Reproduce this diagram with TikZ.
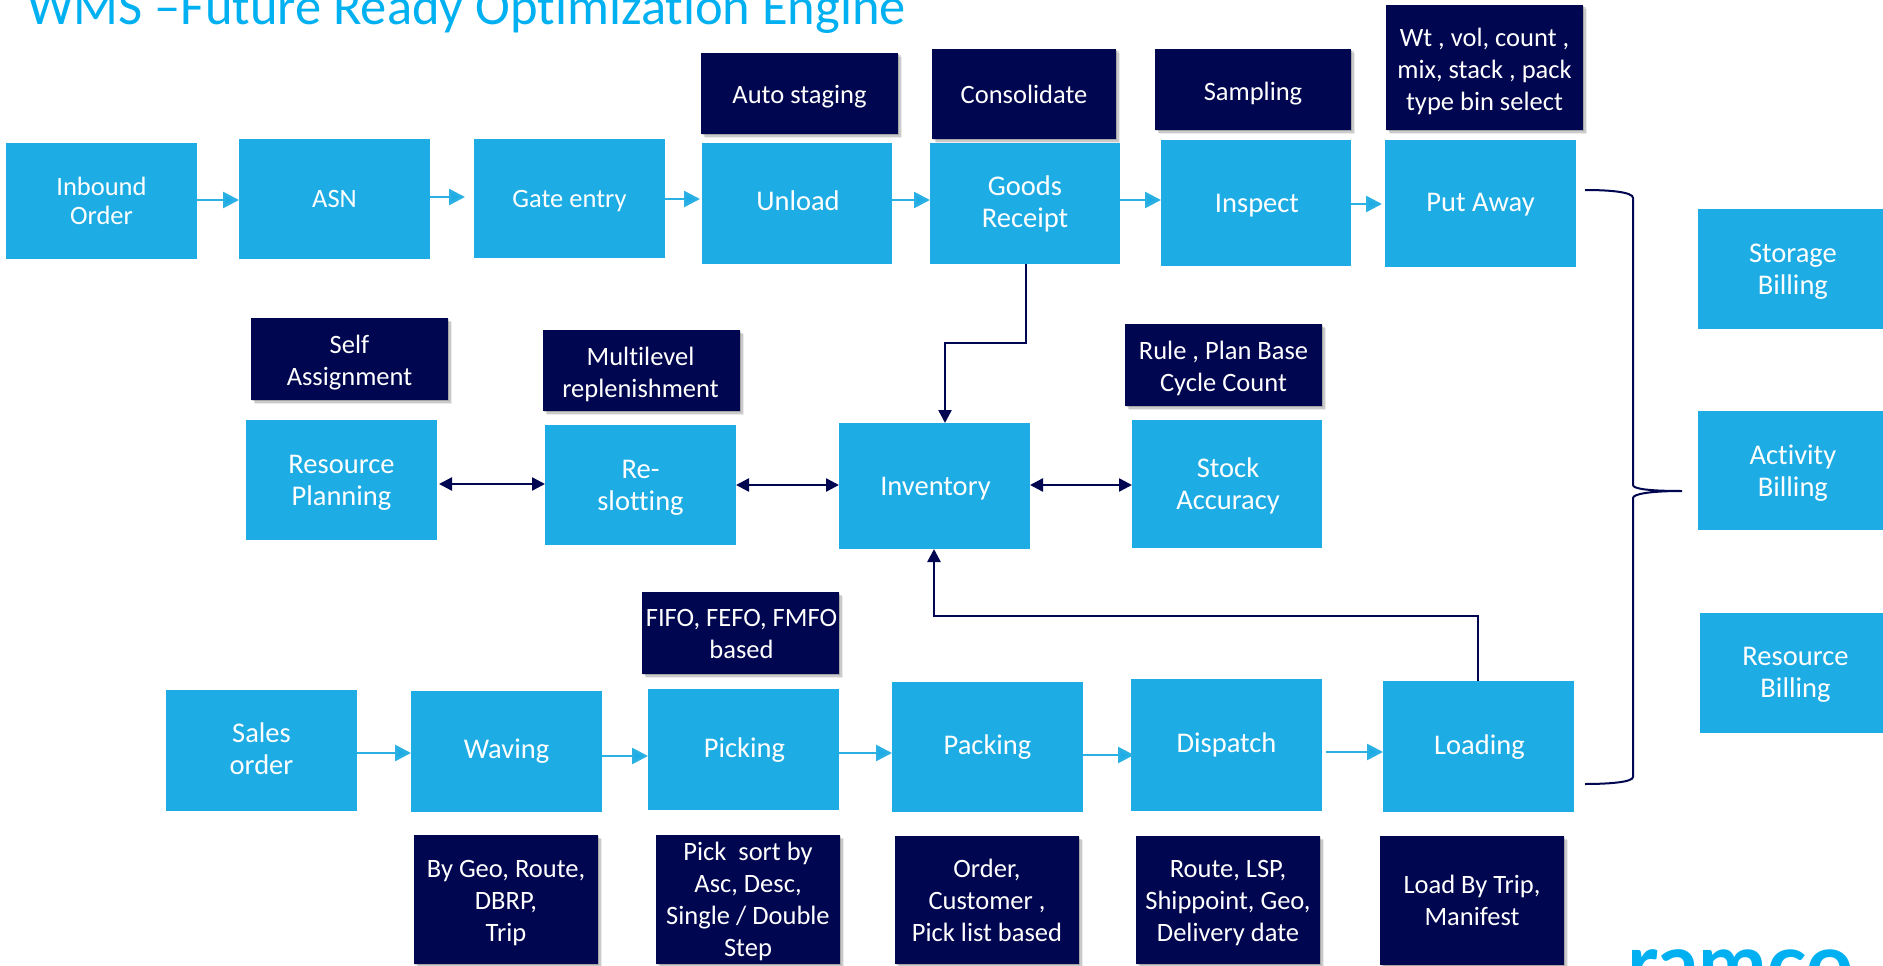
\documentclass[tikz,border=0pt]{standalone}
\usepackage{fontspec}
\setmainfont[Ligatures=NoCommon]{Carlito}
\newfontfamily\logofont{Lato}
\usetikzlibrary{arrows.meta,shadows}
\definecolor{skyb}{HTML}{1EACE4}
\definecolor{navyb}{HTML}{00064F}
\definecolor{titleb}{HTML}{00B0F0}
\definecolor{flowb}{HTML}{2BB0E4}
\newcommand{\fsA}{\fontsize{26.5}{32}\selectfont}
\newcommand{\fsB}{\fontsize{28.5}{32}\selectfont}
\newcommand{\fsC}{\fontsize{26.5}{29}\selectfont}
\newcommand{\rect}[9]{\node[#1,minimum width={(#5-#3)*1pt},minimum height={(#6-#4)*1pt},
  label={[#1 label,xshift=#7pt,yshift=-#8pt]center:{#9}}] (#2) at ({(#3+#5)/2},{(#4+#6)/2}) {};}
\tikzset{
  x=1pt,y=-1pt,
  basebox/.style={inner sep=0pt,outer sep=0pt,draw=none},
  boxtext/.style={inner sep=0pt,align=center,text=white,font=#1},
  blue26/.style={basebox,fill=skyb},
  blue26 label/.style={boxtext=\fsA},
  blue26tight/.style={basebox,fill=skyb},
  blue26tight label/.style={boxtext=\fsC},
  blue28/.style={basebox,fill=skyb},
  blue28 label/.style={boxtext=\fsB},
  darkbox/.style={basebox,fill=navyb,
    drop shadow={shadow xshift=1pt,shadow yshift=-1pt,opacity=.18,fill=black},
    drop shadow={shadow xshift=2.5pt,shadow yshift=-2.5pt,opacity=.14,fill=black},
    drop shadow={shadow xshift=4pt,shadow yshift=-4pt,opacity=.08,fill=black}},
  darkbox label/.style={boxtext=\fsA},
  flow/.style={draw=flowb,line width=2.6pt,-{Triangle[length=16pt,width=16pt,fill=skyb]}},
  link/.style={draw=navyb,line width=2.4pt,-{Triangle[length=13pt,width=13pt]}},
  twoway/.style={draw=navyb,line width=2.4pt,{Triangle[length=13pt,width=13pt]}-{Triangle[length=13pt,width=13pt]}},
  bracket/.style={draw=navyb,line width=2pt}
}
\begin{document}
\begin{tikzpicture}
\useasboundingbox (0,0) rectangle (1883,966);
\begin{scope}
\clip (0,0) rectangle (1883,966);
\node[anchor=base west,inner sep=0pt,text=titleb,font=\fontsize{52.5}{56}\selectfont] (title) at (27,25) {WMS –Future Ready Optimization Engine};
\node[anchor=base west,inner sep=0pt,text=titleb,font=\logofont\bfseries\fontsize{82}{86}\selectfont] (logo) at (1627,992) {ramco};
\end{scope}
% annotation boxes
\rect{darkbox}{autostaging}{701}{53}{898}{134}{0}{3.6}{Auto staging}
\rect{darkbox}{consolidate}{932}{49}{1116}{139}{0}{0}{Consolidate}
\rect{darkbox}{sampling}{1155}{49}{1351}{130}{0}{3.6}{Sampling}
\rect{darkbox}{wtvol}{1386}{5}{1583}{130}{0}{3.6}{Wt , vol, count ,\\mix, stack , pack\\type bin select}
\rect{darkbox}{selfassign}{251}{318}{448}{400}{0}{3.6}{Self\\Assignment}
\rect{darkbox}{multilevel}{543}{330}{740}{411}{-1}{3.6}{Multilevel\\replenishment}
\rect{darkbox}{rulebase}{1125}{324}{1322}{406}{0}{3}{Rule , Plan Base\\Cycle Count}
\rect{darkbox}{fifo}{642}{592}{839}{674}{1}{1}{FIFO, FEFO, FMFO\\based}
\rect{darkbox}{bygeo}{414}{835}{598}{964}{0}{3.6}{By Geo, Route,\\DBRP,\\Trip}
\rect{darkbox}{picksort}{656}{835}{840}{964}{0}{2}{Pick\ \ sort by\\Asc, Desc,\\Single / Double\\Step}
\rect{darkbox}{orderb}{895}{836}{1079}{964}{0}{0}{Order,\\Customer ,\\Pick list based}
\rect{darkbox}{routeb}{1136}{836}{1320}{964}{0}{3}{Route, LSP,\\Shippoint, Geo,\\Delivery date}
\rect{darkbox}{loadb}{1380}{836}{1564}{965}{0}{0}{Load By Trip,\\Manifest}
% process boxes
\rect{blue26tight}{inbound}{6}{143}{197}{259}{0}{0}{Inbound\\Order}
\rect{blue26}{asn}{239}{139}{430}{259}{0}{0}{ASN}
\rect{blue26}{gate}{474}{139}{665}{258}{0}{2.4}{Gate entry}
\rect{blue28}{unload}{702}{143}{892}{264}{1}{-2.4}{Unload}
\rect{blue28}{receipt}{930}{143}{1120}{264}{0}{0}{Goods\\Receipt}
\rect{blue28}{inspect}{1161}{140}{1351}{266}{1}{2.4}{Inspect}
\rect{blue28}{putaway}{1385}{140}{1576}{267}{0}{1}{Put Away}
\rect{blue28}{storage}{1698}{209}{1883}{329}{2.4}{2.4}{Storage\\Billing}
\rect{blue28}{activity}{1698}{411}{1883}{530}{2.4}{2.4}{Activity\\Billing}
\rect{blue28}{resbill}{1700}{613}{1883}{733}{4}{2}{Resource\\Billing}
\rect{blue28}{resplan}{246}{420}{437}{540}{0}{3}{Resource\\Planning}
\rect{blue28}{reslot}{545}{425}{736}{545}{0}{2.4}{Re-\\slotting}
\rect{blue28}{inventory}{839}{423}{1030}{549}{1}{2.4}{Inventory}
\rect{blue28}{stock}{1132}{420}{1322}{548}{1}{1.5}{Stock\\Accuracy}
\rect{blue28}{sales}{166}{690}{357}{811}{0}{-2}{Sales\\order}
\rect{blue28}{waving}{411}{691}{602}{812}{0}{0}{Waving}
\rect{blue28}{picking}{648}{689}{839}{810}{1}{1}{Picking}
\rect{blue28}{packing}{892}{682}{1083}{812}{0}{0}{Packing}
\rect{blue28}{dispatch}{1131}{679}{1322}{811}{0}{0}{Dispatch}
\rect{blue28}{loading}{1383}{681}{1574}{812}{1}{1}{Loading}
% flow arrows
\draw[flow] (inbound.east |- 0,200) -- (asn.west |- 0,200);
\draw[flow] (asn.east |- 0,197) -- (465,197);
\draw[flow] (gate.east |- 0,199) -- (700,199);
\draw[flow] (unload.east |- 0,200) -- (receipt.west |- 0,200);
\draw[flow] (receipt.east |- 0,200) -- (inspect.west |- 0,200);
\draw[flow] (inspect.east |- 0,204) -- (1382,204);
\draw[flow] (sales.east |- 0,753) -- (waving.west |- 0,753);
\draw[flow] (waving.east |- 0,756) -- (picking.west |- 0,756);
\draw[flow] (picking.east |- 0,753) -- (packing.west |- 0,753);
\draw[flow] (packing.east |- 0,755) -- (1134,755);
\draw[flow] (1326,752) -- (loading.west |- 0,752);
% inventory links
\draw[twoway] (resplan.east |- 0,484) ++(2,0) -- (reslot.west |- 0,484);
\draw[twoway] (reslot.east |- 0,485) -- (inventory.west |- 0,485);
\draw[twoway] (inventory.east |- 0,485) -- (stock.west |- 0,485);
\draw[link] (receipt.south -| 1026,0) -- (1026,343) -- (945,343) -- (inventory.north -| 945,0);
\draw[link] (loading.north -| 1478,0) -- (1478,616) -- (934,616) -- (inventory.south -| 934,0);
% billing brace
\draw[bracket] (1585,190) .. controls (1610,190) and (1633,192) .. (1633,198) -- (1633,485)
  .. controls (1633,489) and (1650,491) .. (1682,491)
  .. controls (1650,491) and (1633,494) .. (1633,498) -- (1633,777)
  .. controls (1633,782) and (1610,784) .. (1585,784);
\end{tikzpicture}
\end{document}
